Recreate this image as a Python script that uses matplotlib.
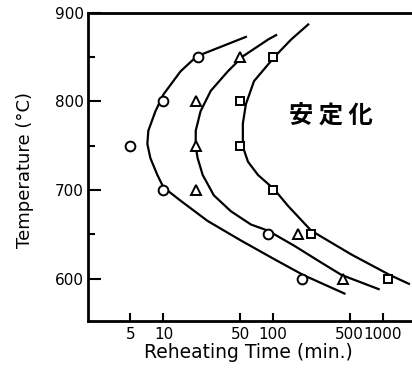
import matplotlib
matplotlib.use("Agg")
import matplotlib.pyplot as plt
from matplotlib.ticker import FixedLocator, NullFormatter

# measured points
circle_t = [5, 10, 10, 20.5, 90, 185]
circle_T = [750, 800, 700, 850, 650, 600]
tri_t = [20, 20, 20, 50, 170, 437]
tri_T = [800, 750, 700, 850, 650, 600]
sq_t = [50, 50, 100, 100, 223, 1110]
sq_T = [800, 750, 700, 850, 650, 600]

# curves (time, temperature)
c1_t = [56.5, 20.1, 14.3, 10, 8.45, 7.28, 7.13, 7.6, 8.8, 10, 14.3, 25.3, 50.8, 102, 188, 448]
c1_T = [873, 851, 834, 808, 789, 767, 752, 736, 717, 703, 688, 665, 643, 622, 604, 583]
c2_t = [106.6, 90, 53, 38.6, 27, 21.8, 19.7, 19.7, 20.5, 22.8, 28.8, 41.2, 62.8, 90, 156, 275, 421, 918]
c2_T = [875, 870, 851, 834, 812, 789, 767, 749, 736, 717, 694, 676, 661, 654, 637, 618, 604, 588]
c3_t = [209, 146, 104, 67, 56.5, 53, 53, 59, 72.8, 102, 137, 223, 520, 1159, 1734]
c3_T = [887, 870, 851, 823, 797, 775, 749, 732, 717, 701, 682, 654, 627, 604, 594]

xticks = [5, 10, 50, 100, 500, 1000]
xticklabels = ["5", "10", "50", "100", "500", "1000"]
yticks = [600, 700, 800, 900]

fig = plt.figure(figsize=(4.12, 3.71), dpi=100)
ax = fig.add_axes([0.2136, 0.1348, 0.7864, 0.8302])
ax.set_xscale("log")

for ct, cT in [(c1_t, c1_T), (c2_t, c2_T), (c3_t, c3_T)]:
    ax.plot(ct, cT, color="black", lw=1.6, zorder=2, solid_joinstyle="round")

mk = dict(ls="none", mfc="white", mec="black", mew=1.4, zorder=3)
ax.plot(circle_t, circle_T, marker="o", ms=7, **mk)
ax.plot(tri_t, tri_T, marker="^", ms=6.5, **mk)
ax.plot(sq_t, sq_T, marker="s", ms=6, **mk)

ax.text(335, 784, "安 定 化", fontsize=17.5, fontweight="bold", ha="center", va="center",
        family=["Noto Sans CJK JP", "DejaVu Sans"])

ax.set_xlim(2.05, 1850)
ax.set_ylim(552, 900)

ax.spines["right"].set_visible(False)
for s in ["left", "top", "bottom"]:
    ax.spines[s].set_linewidth(2)

ax.xaxis.set_major_locator(FixedLocator(xticks))
ax.set_xticklabels(xticklabels)
ax.xaxis.set_minor_formatter(NullFormatter())
ax.xaxis.set_minor_locator(FixedLocator([]))
ax.yaxis.set_major_locator(FixedLocator(yticks))
ax.yaxis.set_minor_locator(FixedLocator([650, 750, 850]))
ax.tick_params(axis="both", which="major", direction="in", width=1.5, labelsize=11)
ax.tick_params(axis="y", which="major", length=9, pad=3)
ax.tick_params(axis="y", which="minor", direction="in", length=5, width=1.5)
ax.tick_params(axis="x", which="major", length=6, pad=4, top=False)
for lab in ax.get_xticklabels() + ax.get_yticklabels():
    lab.set_fontweight("medium")

ax.set_xlabel("Reheating Time (min.)", fontsize=13.5)
ax.set_ylabel("Temperature (°C)", fontsize=13)
ax.xaxis.set_label_coords(0.494, -0.072)
ax.yaxis.set_label_coords(-0.166, 0.49)

fig.savefig("out.png", dpi=100)
